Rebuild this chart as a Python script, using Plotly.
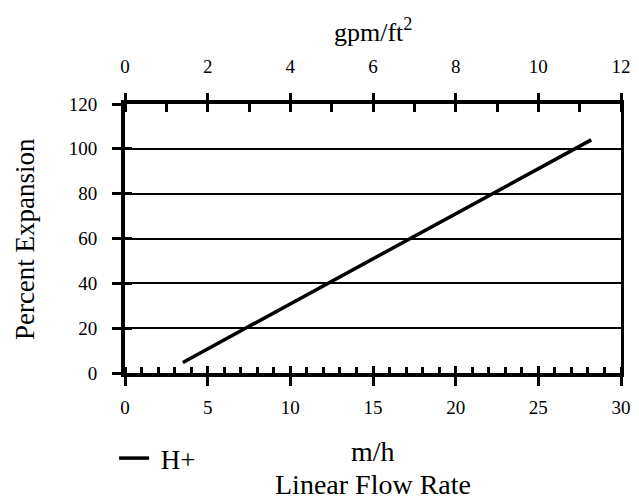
import plotly.graph_objects as go

# ---- data ----
flow_mh = [3.5, 28.2]          # linear flow rate, m/h
expansion_pct = [4.7, 104.0]   # percent expansion
series_name = "H+"

x_ticks = [0, 5, 10, 15, 20, 25, 30]
gpm_ticks = [0, 2, 4, 6, 8, 10, 12]
y_ticks = [0, 20, 40, 60, 80, 100, 120]

FONT = "Liberation Serif, Times New Roman, serif"

fig = go.Figure()
fig.add_trace(go.Scatter(
    x=flow_mh, y=expansion_pct, mode="lines", name=" " + series_name,
    line=dict(color="black", width=3.5), xaxis="x", yaxis="y",
))
# empty helper traces so the overlaid tick axes get drawn
for xa, ya, vals in [("x2", "y", gpm_ticks), ("x3", "y", x_ticks),
                     ("x4", "y", gpm_ticks), ("x", "y2", x_ticks),
                     ("x", "y3", x_ticks)]:
    fig.add_trace(go.Scatter(x=vals, y=[None] * len(vals), mode="lines",
                             xaxis=xa, yaxis=ya, showlegend=False,
                             hoverinfo="skip"))

tickfont = dict(family=FONT, size=19, color="black")

fig.update_layout(
    width=639, height=500,
    margin=dict(l=125, r=8, t=104, b=127),
    paper_bgcolor="white", plot_bgcolor="white",
    font=dict(family=FONT, color="black"),
    showlegend=True,
    legend=dict(x=-0.022, y=-0.318, xanchor="left", yanchor="middle",
                font=dict(family=FONT, size=27, color="black"),
                bgcolor="rgba(0,0,0,0)", itemwidth=30),
    xaxis=dict(
        range=[0, 30], tickvals=x_ticks, ticktext=[str(v) for v in x_ticks],
        ticks="outside", ticklen=9, tickwidth=3, tickcolor="black",
        showline=True, linewidth=4, linecolor="black",
        showgrid=False, zeroline=False, tickfont=tickfont,
        ticklabelstandoff=5, ticklabeloverflow="allow",
        minor=dict(dtick=1, tick0=0, ticks="inside", ticklen=6, tickwidth=3,
                   tickcolor="black", showgrid=False),
        anchor="y", side="bottom",
    ),
    xaxis3=dict(
        range=[0, 30], tickvals=x_ticks, ticks="inside", ticklen=7, tickwidth=3,
        tickcolor="black", showticklabels=False, showline=False, showgrid=False,
        zeroline=False, overlaying="x", anchor="y", side="bottom",
    ),
    xaxis2=dict(
        range=[0, 12], tickvals=gpm_ticks, ticktext=[str(v) for v in gpm_ticks],
        ticks="outside", ticklen=7, tickwidth=3, tickcolor="black",
        showline=True, linewidth=4, linecolor="black",
        showgrid=False, zeroline=False, tickfont=tickfont,
        ticklabelstandoff=12, ticklabeloverflow="allow",
        minor=dict(dtick=1, tick0=0, ticks="inside", ticklen=8, tickwidth=3,
                   tickcolor="black", showgrid=False),
        overlaying="x", anchor="y", side="top",
    ),
    xaxis4=dict(
        range=[0, 12], tickvals=gpm_ticks, ticks="inside", ticklen=8, tickwidth=3,
        tickcolor="black", showticklabels=False, showline=False, showgrid=False,
        zeroline=False, overlaying="x", anchor="y", side="top",
    ),
    yaxis=dict(
        range=[0, 120], tickvals=y_ticks, ticktext=[str(v) for v in y_ticks],
        ticks="outside", ticklen=9, tickwidth=3, tickcolor="black",
        showline=True, linewidth=4, linecolor="black",
        showgrid=True, gridcolor="black", gridwidth=2,
        zeroline=False, tickfont=tickfont, ticklabelstandoff=11,
        anchor="x", side="left",
    ),
    yaxis3=dict(
        range=[0, 120], tickvals=y_ticks, ticks="inside", ticklen=7, tickwidth=3,
        tickcolor="black", showticklabels=False, showline=False, showgrid=False,
        zeroline=False, overlaying="y", anchor="x", side="left",
    ),
    yaxis2=dict(
        range=[0, 120], showticklabels=False, ticks="", showline=True,
        linewidth=3, linecolor="black", showgrid=False, zeroline=False,
        overlaying="y", anchor="x", side="right",
    ),
    annotations=[
        dict(text="gpm/ft<sup>2</sup>", xref="paper", yref="paper", x=0.5, y=1.275,
             xanchor="center", yanchor="middle", showarrow=False,
             font=dict(family=FONT, size=26, color="black")),
        dict(text="m/h", xref="paper", yref="paper", x=0.5, y=-0.292,
             xanchor="center", yanchor="middle", showarrow=False,
             font=dict(family=FONT, size=28, color="black")),
        dict(text="Linear Flow Rate", xref="paper", yref="paper", x=0.5, y=-0.415,
             xanchor="center", yanchor="middle", showarrow=False,
             font=dict(family=FONT, size=28, color="black")),
        dict(text="Percent Expansion", xref="paper", yref="paper", x=-0.202, y=0.497,
             xanchor="center", yanchor="middle", textangle=-90, showarrow=False,
             font=dict(family=FONT, size=27, color="black")),
    ],
)

fig.write_html("out.html", config={"displayModeBar": False})

# remove the browser's default page margin so the figure sits at (0, 0)
with open("out.html", "r", encoding="utf-8") as f:
    html = f.read()
html = html.replace("<body>", '<body style="margin:0;padding:0;overflow:hidden">', 1)
with open("out.html", "w", encoding="utf-8") as f:
    f.write(html)
